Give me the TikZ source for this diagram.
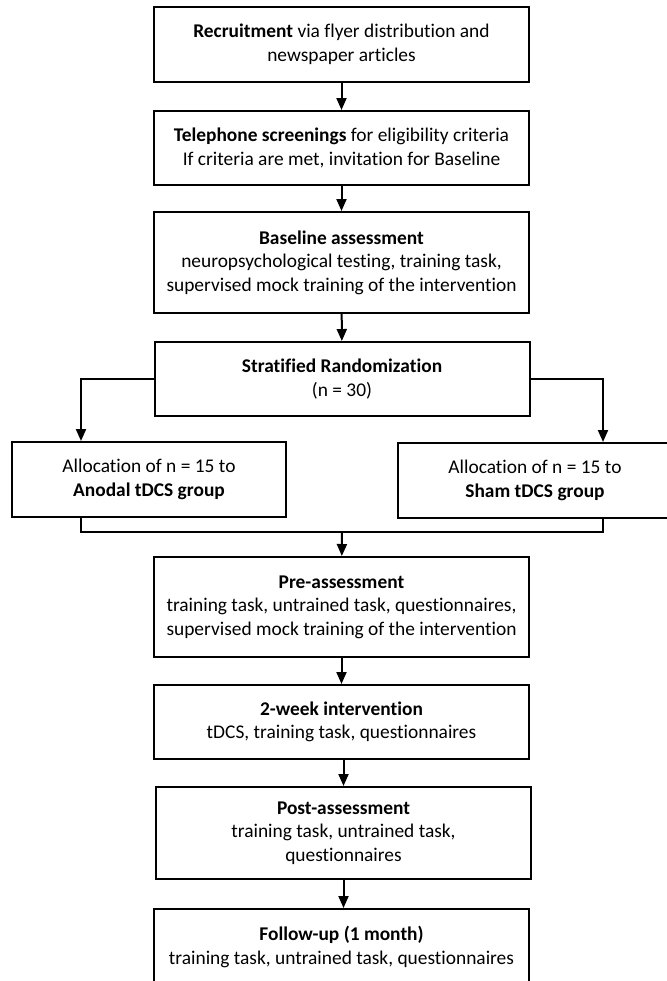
\documentclass[tikz,border=0pt]{standalone}
\usepackage{fontspec}
\setmainfont{Carlito}[Ligatures=NoCommon]
\usepackage{tikz}
\usetikzlibrary{positioning, arrows.meta, calc}

\begin{document}
\begin{tikzpicture}[
    x=0.5pt, y=-0.5pt,
    line width=1pt,
    arrow/.style={
        -{Triangle[width=5pt,length=6pt]},
        line width=1pt
    },
    stage/.style={
        rectangle,
        draw,
        line width=1pt,
        fill=white,
        align=center,
        inner sep=0pt,
        minimum width=187.5pt,
        font=\fontsize{9.7}{11.8}\selectfont
    },
    group/.style={
        stage,
        minimum width=137pt,
        minimum height=37.5pt
    }
]

    \useasboundingbox (0,0) rectangle (666,981);

    % Screening phase
    \node[stage, minimum height=37.5pt] (recruit) at (341.5,44.5) {\textbf{Recruitment} via flyer distribution and\\newspaper articles};
    \node[stage, minimum height=37pt] (screen) at (341.5,148) {\textbf{Telephone screenings} for eligibility criteria\\If criteria are met, invitation for Baseline};
    \node[stage, minimum height=50.5pt] (baseline) at (341.5,262.5) {\textbf{Baseline assessment}\\neuropsychological testing, training task,\\supervised mock training of the intervention};
    \draw[arrow] (recruit) -- (screen);
    \draw[arrow] (screen) -- (baseline);

    % Randomization and allocation
    \node[stage, minimum height=37pt] (random) at (342,379) {\textbf{Stratified Randomization}\\(n = 30)};
    \node[group] (anodal) at (149,479.5) {Allocation of n = 15 to\\\textbf{Anodal tDCS group}};
    \node[group] (sham) at (535,480.5) {Allocation of n = 15 to\\\textbf{Sham tDCS group}};
    \draw[arrow] (baseline) -- (random);
    \draw[arrow] (random.west) -| ($(anodal.north)+(-68,0)$);
    \draw[arrow] (random.east) -| ($(sham.north)+(68,0)$);

    \coordinate (merge) at (342,532);
    \draw ($(anodal.south)+(-68,0)$) |- (merge) -| ($(sham.south)+(68,0)$);

    % Intervention phase
    \node[stage, minimum height=50pt] (pre) at (341.5,607) {\textbf{Pre-assessment}\\training task, untrained task, questionnaires,\\supervised mock training of the intervention};
    \node[stage, minimum height=37pt] (interv) at (341.5,722) {\textbf{2-week intervention}\\tDCS, training task, questionnaires};
    \node[stage, minimum height=46pt] (post) at (343.5,833) {\textbf{Post-assessment}\\training task, untrained task,\\questionnaires};
    \node[stage, minimum height=38pt] (follow) at (341.5,947) {\textbf{Follow-up (1 month)}\\training task, untrained task, questionnaires};
    \draw[arrow] (merge) -- (pre);
    \draw[arrow] (pre) -- (interv);
    \draw[arrow] (interv.south -| post) -- (post);
    \draw[arrow] (post) -- (follow.north -| post);

\end{tikzpicture}
\end{document}
